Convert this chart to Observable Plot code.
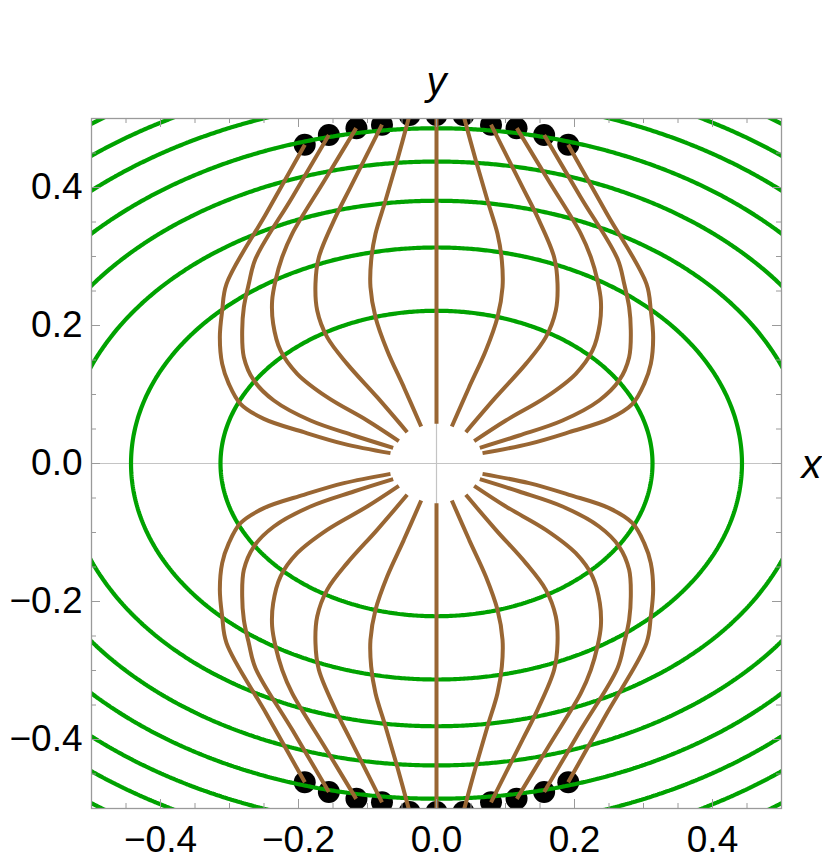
<!DOCTYPE html>
<html>
<head>
<meta charset="utf-8">
<script src="https://cdn.jsdelivr.net/npm/d3@7"></script>
<script src="https://cdn.jsdelivr.net/npm/@observablehq/plot@0.6"></script>
<style>
  html, body { margin: 0; padding: 0; background: #fff; }
  #chart { width: 822px; height: 866px; }
</style>
</head>
<body>
<div id="chart"></div>
<script>
// ---- data ----
// equipotential contour levels (x^2 + 2y^2 = level)
const contourLevels = [0.098, 0.196, 0.29, 0.383, 0.472, 0.563, 0.648, 0.735];

// field lines, upper-left quadrant (mirrored into the other quadrants)
const line1 = [[-0.0667,0.0150],[-0.1343,0.0285],[-0.1923,0.0454],[-0.2502,0.0647],[-0.2841,0.0865],[-0.3010,0.1155],[-0.3106,0.1444],[-0.3140,0.1831],[-0.3106,0.2217],[-0.3043,0.2604],[-0.2470,0.3620],[-0.1908,0.4620]];
const line2 = [[-0.0628,0.0227],[-0.1198,0.0406],[-0.1826,0.0623],[-0.2357,0.0913],[-0.2647,0.1203],[-0.2792,0.1541],[-0.2816,0.1928],[-0.2792,0.2266],[-0.2720,0.2604],[-0.2623,0.2966],[-0.2090,0.3860],[-0.1560,0.4760]];
const line3 = [[-0.0546,0.0324],[-0.1005,0.0623],[-0.1585,0.0961],[-0.2019,0.1300],[-0.2261,0.1638],[-0.2367,0.2024],[-0.2382,0.2362],[-0.2333,0.2652],[-0.2237,0.2990],[-0.2092,0.3329],[-0.1630,0.4090],[-0.1164,0.4860]];
const line4 = [[-0.0425,0.0454],[-0.0860,0.0961],[-0.1295,0.1444],[-0.1585,0.1831],[-0.1729,0.2217],[-0.1754,0.2604],[-0.1705,0.2990],[-0.1464,0.3570],[-0.1246,0.4005],[-0.0790,0.4910]];
const line5 = [[-0.0222,0.0536],[-0.0473,0.1106],[-0.0715,0.1638],[-0.0884,0.2121],[-0.0957,0.2556],[-0.0947,0.2942],[-0.0884,0.3329],[-0.0739,0.3812],[-0.0570,0.4391],[-0.0390,0.5050]];
const centerLine = [[0,0.0575],[0,0.5050]];

// end points (top half; bottom half is the mirror image)
const dotX = [-0.191, -0.156, -0.116, -0.079, -0.039, 0, 0.039, 0.079, 0.116, 0.156, 0.191];
const dotY = [0.462, 0.476, 0.486, 0.491, 0.505, 0.505, 0.505, 0.491, 0.486, 0.476, 0.462];

// ticks
const majorTicks = [-0.4, -0.2, 0, 0.2, 0.4];
const minorTicks = [-0.45, -0.35, -0.3, -0.25, -0.15, -0.1, -0.05, 0.05, 0.1, 0.15, 0.25, 0.3, 0.35, 0.45];

// ---- tables built from the arrays ----
const fieldRows = [];
[line1, line2, line3, line4, line5].forEach((pts, i) => {
  for (const sx of [-1, 1]) for (const sy of [-1, 1]) {
    pts.forEach(([x, y]) => fieldRows.push({id: `L${i}_${sx}_${sy}`, x: sx * x, y: sy * y}));
  }
});
for (const sy of [-1, 1]) {
  centerLine.forEach(([x, y]) => fieldRows.push({id: `C_${sy}`, x, y: sy * y}));
}
const dotRows = [];
for (const sy of [-1, 1]) dotX.forEach((x, i) => dotRows.push({x, y: sy * dotY[i]}));

const green = "#00a200";
const brown = "#996633";
const frameGray = "#9a9a9a";
const plotH = 866 - 118 - 58;
const majorLen = 9, minorLen = 5;

const chart = Plot.plot({
  width: 822,
  height: 866,
  marginLeft: 91,
  marginRight: 41,
  marginTop: 118,
  marginBottom: 58,
  style: {fontFamily: "'Liberation Sans', Arial, sans-serif", background: "#fff", color: "#000"},
  x: {domain: [-0.5, 0.5], axis: null},
  y: {domain: [-0.5, 0.5], axis: null},
  marks: [
    Plot.ruleX([0], {stroke: "#c4c4c4", strokeWidth: 1.2}),
    Plot.ruleY([0], {stroke: "#c4c4c4", strokeWidth: 1.2}),
    Plot.dot(dotRows, {x: "x", y: "y", r: 11, fill: "#000", stroke: "none", clip: true}),
    Plot.contour({
      value: (x, y) => x * x + 2 * y * y,
      x1: -0.58, x2: 0.58, y1: -0.58, y2: 0.58,
      thresholds: contourLevels,
      fill: "none", stroke: green, strokeWidth: 4.2, clip: true
    }),
    Plot.line(fieldRows, {x: "x", y: "y", z: "id", curve: "catmull-rom", stroke: brown, strokeWidth: 4, strokeLinecap: "butt", strokeLinejoin: "miter", clip: true}),
    // inward frame ticks
    Plot.ruleX(majorTicks, {x: d => d, stroke: frameGray, insetTop: plotH - majorLen}),
    Plot.ruleX(minorTicks, {x: d => d, stroke: frameGray, insetTop: plotH - minorLen}),
    Plot.ruleX(majorTicks, {x: d => d, stroke: frameGray, insetBottom: plotH - majorLen}),
    Plot.ruleX(minorTicks, {x: d => d, stroke: frameGray, insetBottom: plotH - minorLen}),
    Plot.ruleY(majorTicks, {y: d => d, stroke: frameGray, insetRight: plotH - majorLen}),
    Plot.ruleY(minorTicks, {y: d => d, stroke: frameGray, insetRight: plotH - minorLen}),
    Plot.ruleY(majorTicks, {y: d => d, stroke: frameGray, insetLeft: plotH - majorLen}),
    Plot.ruleY(minorTicks, {y: d => d, stroke: frameGray, insetLeft: plotH - minorLen}),
    Plot.frame({stroke: frameGray, strokeWidth: 1.3}),
    Plot.axisX(majorTicks, {anchor: "bottom", tickSize: 0, tickPadding: 17, tickFormat: d3.format(".1f"), fontSize: 37, label: null, fill: "#000"}),
    Plot.axisY(majorTicks, {anchor: "left", tickSize: 0, tickPadding: 9, tickFormat: d3.format(".1f"), fontSize: 37, label: null, fill: "#000"}),
    Plot.text(["y"], {x: 0, y: 0.5, dy: -36, text: d => d, fontSize: 40, fontStyle: "italic", lineAnchor: "middle", fill: "#000"}),
    Plot.text(["x"], {x: 0.5, y: 0, dx: 30, dy: 2, text: d => d, fontSize: 40, fontStyle: "italic", lineAnchor: "middle", fill: "#000"})
  ]
});
document.getElementById("chart").appendChild(chart);
</script>
</body>
</html>
